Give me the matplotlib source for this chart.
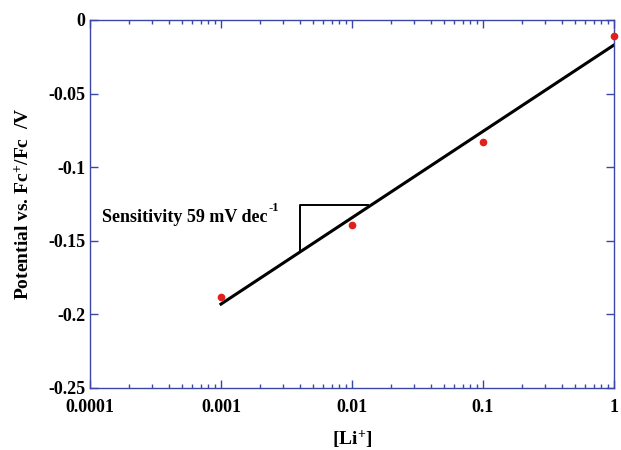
import numpy as np
import matplotlib

matplotlib.use("Agg")
import matplotlib.pyplot as plt  # noqa: E402
from matplotlib.ticker import LogLocator, FixedLocator, NullFormatter  # noqa: E402

plt.rcParams.update({
    "font.family": "Liberation Serif", "font.weight": "bold",
    "mathtext.fontset": "custom", "mathtext.rm": "Liberation Serif:bold",
    "mathtext.it": "Liberation Serif:bold", "mathtext.bf": "Liberation Serif:bold",
})

AXIS_BLUE = "#3a46a8"

# measured points
conc = [0.001, 0.01, 0.1, 1.0]
potential = [-0.188, -0.1393, -0.0829, -0.0109]

# linear fit vs log10 concentration
fit_x = [0.001, 1.0]
fit_y = [-0.193, -0.017]

# slope triangle corners
tri_x = [0.004, 0.004, 0.0132]
tri_y = [-0.1577, -0.1257, -0.1257]

fig = plt.figure(figsize=(6.21, 4.5), dpi=100)
ax = fig.add_axes([0.1449, 0.1378, 0.8438, 0.8178])

ax.plot(fit_x, fit_y, color="black", lw=2.2, zorder=2)
ax.plot(tri_x, tri_y, color="black", lw=1.4, zorder=2)
ax.plot(conc, potential, "o", color="#e0201c", ms=4.5, zorder=3, clip_on=False)

ax.set_xscale("log")
ax.set_xlim(1e-4, 1)
ax.set_ylim(-0.25, 0)
ax.xaxis.set_major_locator(FixedLocator([1e-4, 1e-3, 1e-2, 1e-1, 1]))
ax.set_xticklabels(["0.0001", "0.001", "0.01", "0.1", "1"])
ax.xaxis.set_minor_locator(LogLocator(base=10, subs=np.arange(2, 10)))
ax.xaxis.set_minor_formatter(NullFormatter())
ax.set_yticks([-0.25, -0.2, -0.15, -0.1, -0.05, 0])
ax.set_yticklabels(["-0.25", "-0.2", "-0.15", "-0.1", "-0.05", "0"])

for s in ax.spines.values():
    s.set_color(AXIS_BLUE)
    s.set_linewidth(1.0)
ax.tick_params(which="both", direction="in", color=AXIS_BLUE, labelsize=13,
               top=True, right=True)
ax.tick_params(which="major", length=6, width=1)
ax.tick_params(which="minor", length=3, width=1)
ax.tick_params(axis="x", pad=8)

ax.set_xlabel("[Li$^{+}$]", fontsize=14, fontweight="bold", labelpad=9)
ax.set_ylabel("Potential vs. Fc$^{+}$/Fc  /V", fontsize=14, fontweight="bold",
              labelpad=11)

ann = ax.text(1.23e-4, -0.1345, "Sensitivity 59 mV dec", fontsize=13,
              fontweight="bold", va="center", ha="left")
ax.annotate("-1", xy=(1, 0.5), xycoords=ann, xytext=(1, 3),
            textcoords="offset points", fontsize=9, fontweight="bold",
            va="bottom", ha="left")

fig.savefig("out.png", dpi=100)
